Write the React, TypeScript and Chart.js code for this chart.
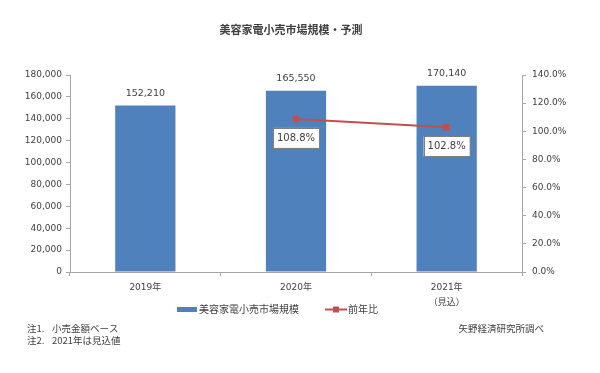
import { useEffect, useRef } from 'react';
import { Chart, registerables } from 'chart.js';

Chart.register(...registerables);

const TITLE = '美容家電小売市場規模・予測';
const CATEGORIES: (string | string[])[] = ['2019年', '2020年', ['2021年', '（見込）']];
const MARKET_SIZE = [152210, 165550, 170140];
const YOY: (number | null)[] = [null, 108.8, 102.8];
const SERIES_NAMES = ['美容家電小売市場規模', '前年比'];
const LEFT_MAX = 180000;
const LEFT_STEP = 20000;
const RIGHT_MAX = 140;
const RIGHT_STEP = 20;
const NOTE_LABELS = ['注1.', '注2.'];
const NOTE_TEXTS = ['小売金額ベース', '2021年は見込値'];
const SOURCE = '矢野経済研究所調べ';

const BLUE = '#4F81BD';
const RED = '#C0504D';
const TEXT = '#404040';
const AXIS = '#A6A6A6';
const CJK = '"Noto Sans CJK JP", sans-serif';
const NUM = '"DejaVu Sans", "Noto Sans CJK JP", sans-serif';

const decorPlugin = {
  id: 'decor',
  afterDatasetsDraw(chart: any) {
    const ctx = chart.ctx as CanvasRenderingContext2D;
    ctx.save();
    // bar value labels
    const barMeta = chart.getDatasetMeta(0);
    ctx.font = `9.5px ${NUM}`;
    ctx.fillStyle = TEXT;
    ctx.textAlign = 'center';
    ctx.textBaseline = 'middle';
    barMeta.data.forEach((el: any, i: number) => {
      ctx.fillText(MARKET_SIZE[i].toLocaleString('en-US'), el.x, el.y - 12);
    });
    // line value labels
    const lineMeta = chart.getDatasetMeta(1);
    lineMeta.data.forEach((el: any, i: number) => {
      const v = YOY[i];
      if (v == null || isNaN(el.y)) return;
      const txt = v.toFixed(1) + '%';
      ctx.font = `10px ${NUM}`;
      const w = 46;
      const h = 20;
      const cx = el.x;
      const cy = el.y + 19;
      ctx.fillStyle = '#FFFFFF';
      ctx.fillRect(cx - w / 2, cy - h / 2, w, h);
      ctx.strokeStyle = '#7F7F7F';
      ctx.lineWidth = 1;
      ctx.strokeRect(Math.round(cx - w / 2) + 0.5, Math.round(cy - h / 2) + 0.5, w, h);
      ctx.fillStyle = TEXT;
      ctx.fillText(txt, cx, cy + 0.5);
    });
    ctx.restore();
  },
  afterDraw(chart: any) {
    const ctx = chart.ctx as CanvasRenderingContext2D;
    ctx.save();
    ctx.fillStyle = TEXT;
    ctx.textBaseline = 'middle';
    // title
    ctx.font = `bold 11px ${CJK}`;
    ctx.textAlign = 'center';
    ctx.fillText(TITLE, 291, 30);
    // legend
    ctx.font = `10px ${CJK}`;
    ctx.textAlign = 'left';
    ctx.fillStyle = BLUE;
    ctx.fillRect(177, 307, 20, 5);
    ctx.fillStyle = TEXT;
    ctx.fillText(SERIES_NAMES[0], 199, 309.5);
    ctx.strokeStyle = RED;
    ctx.lineWidth = 2;
    ctx.beginPath();
    ctx.moveTo(325, 309.5);
    ctx.lineTo(347, 309.5);
    ctx.stroke();
    ctx.fillStyle = RED;
    ctx.fillRect(333, 306.5, 6, 6);
    ctx.fillStyle = TEXT;
    ctx.fillText(SERIES_NAMES[1], 348, 309.5);
    // notes
    ctx.font = `9.5px ${CJK}`;
    NOTE_LABELS.forEach((lab, i) => {
      const y = 328 + i * 12;
      ctx.fillText(lab, 27, y);
      ctx.fillText(NOTE_TEXTS[i], 52, y);
    });
    ctx.textAlign = 'right';
    ctx.fillText(SOURCE, 544, 328);
    ctx.restore();
  },
};

export default function App() {
  const ref = useRef<HTMLCanvasElement | null>(null);
  useEffect(() => {
    if (!ref.current) return;
    const chart = new Chart(ref.current, {
      type: 'bar',
      data: {
        labels: CATEGORIES,
        datasets: [
          {
            type: 'bar',
            label: SERIES_NAMES[0],
            data: MARKET_SIZE,
            backgroundColor: BLUE,
            yAxisID: 'y',
            categoryPercentage: 1,
            barPercentage: 0.4,
            order: 1,
          },
          {
            type: 'line',
            label: SERIES_NAMES[1],
            data: YOY as any,
            borderColor: RED,
            backgroundColor: RED,
            borderWidth: 2,
            pointStyle: 'rect',
            pointRadius: 4,
            pointBorderWidth: 1,
            yAxisID: 'y1',
            order: 0,
          } as any,
        ],
      },
      options: {
        responsive: false,
        devicePixelRatio: 1,
        animation: false,
        layout: { padding: { top: 75, left: 0, right: 0, bottom: 0 } },
        plugins: {
          legend: { display: false },
          title: { display: false },
          tooltip: { enabled: false },
        },
        scales: {
          x: {
            grid: { drawOnChartArea: false, drawTicks: true, tickLength: 4, color: AXIS, offset: true },
            border: { color: AXIS },
            ticks: { color: TEXT, font: { family: NUM, size: 9, lineHeight: 1.65 }, padding: 4, maxRotation: 0 },
            afterFit: (s: any) => { s.height = 101; },
          },
          y: {
            position: 'left',
            min: 0,
            max: LEFT_MAX,
            grid: { drawOnChartArea: false, drawTicks: true, tickLength: 4, color: AXIS },
            border: { color: AXIS },
            ticks: {
              stepSize: LEFT_STEP,
              color: TEXT,
              font: { family: NUM, size: 9 },
              padding: 4,
              callback: (v: any) => Number(v).toLocaleString('en-US'),
            },
            afterFit: (s: any) => { s.width = 70; },
          },
          y1: {
            position: 'right',
            min: 0,
            max: RIGHT_MAX,
            grid: { drawOnChartArea: false, drawTicks: true, tickLength: 4, color: AXIS },
            border: { color: AXIS },
            ticks: {
              stepSize: RIGHT_STEP,
              color: TEXT,
              font: { family: NUM, size: 9 },
              padding: 6,
              callback: (v: any) => Number(v).toFixed(1) + '%',
            },
            afterFit: (s: any) => { s.width = 78; },
          },
        },
      },
      plugins: [decorPlugin],
    });
    return () => chart.destroy();
  }, []);
  return (
    <div style={{ position: 'fixed', left: 0, top: 0, width: 600, height: 373, background: '#FFFFFF' }}>
      <canvas ref={ref} width={600} height={373} />
    </div>
  );
}
